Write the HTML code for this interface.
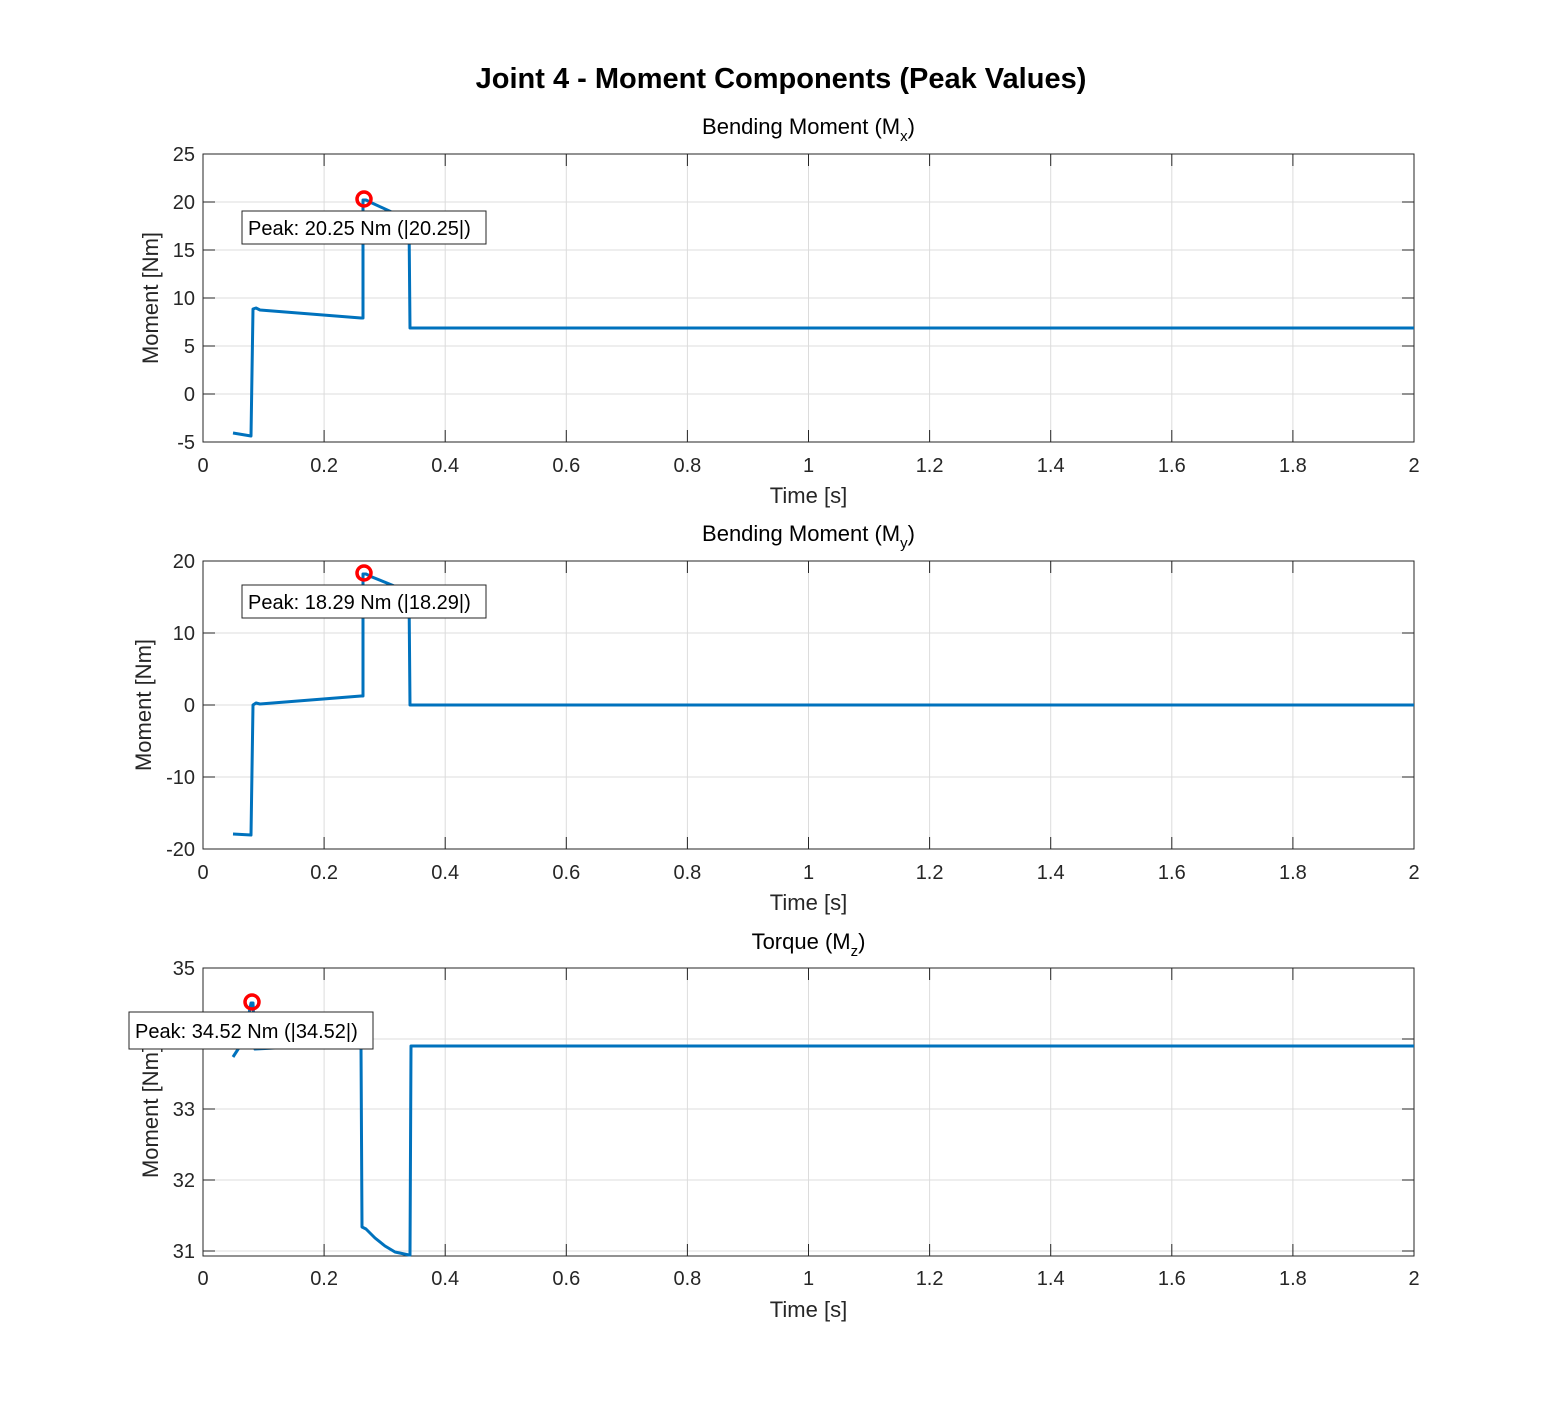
<!DOCTYPE html>
<html><head><style>body{margin:0;background:#fff}svg{display:block}text{font-family:"Liberation Sans",Arial,sans-serif}</style></head><body>
<svg width="1563" height="1406" xmlns="http://www.w3.org/2000/svg">
<rect width="1563" height="1406" fill="#fff"/>
<text x="781" y="88" font-size="29" font-weight="bold" text-anchor="middle">Joint 4 - Moment Components (Peak Values)</text>
<g stroke="#dcdcdc" stroke-width="1">
<path d="M324.1 154V442M445.2 154V442M566.3 154V442M687.4 154V442M808.5 154V442M929.6 154V442M1050.7 154V442M1171.8 154V442M1292.9 154V442M203 202H1414M203 250H1414M203 298H1414M203 346H1414M203 394H1414"/>
<path d="M324.1 561V849M445.2 561V849M566.3 561V849M687.4 561V849M808.5 561V849M929.6 561V849M1050.7 561V849M1171.8 561V849M1292.9 561V849M203 633H1414M203 705H1414M203 777H1414"/>
<path d="M324.1 968V1256M445.2 968V1256M566.3 968V1256M687.4 968V1256M808.5 968V1256M929.6 968V1256M1050.7 968V1256M1171.8 968V1256M1292.9 968V1256M203 1039H1414M203 1109H1414M203 1180H1414M203 1251H1414"/>
</g>
<g fill="none" stroke="#262626" stroke-width="1">
<rect x="203" y="154" width="1211" height="288"/>
<rect x="203" y="561" width="1211" height="288"/>
<rect x="203" y="968" width="1211" height="288"/>
<path d="M203 202h12M203 250h12M203 298h12M203 346h12M203 394h12M1414 202h-12M1414 250h-12M1414 298h-12M1414 346h-12M1414 394h-12
M203 633h12M203 705h12M203 777h12M1414 633h-12M1414 705h-12M1414 777h-12
M203 1039h12M203 1109h12M203 1180h12M203 1251h12M1414 1039h-12M1414 1109h-12M1414 1180h-12M1414 1251h-12
M324.1 442v-12M445.2 442v-12M566.3 442v-12M687.4 442v-12M808.5 442v-12M929.6 442v-12M1050.7 442v-12M1171.8 442v-12M1292.9 442v-12
M324.1 154v12M445.2 154v12M566.3 154v12M687.4 154v12M808.5 154v12M929.6 154v12M1050.7 154v12M1171.8 154v12M1292.9 154v12
M324.1 849v-12M445.2 849v-12M566.3 849v-12M687.4 849v-12M808.5 849v-12M929.6 849v-12M1050.7 849v-12M1171.8 849v-12M1292.9 849v-12
M324.1 561v12M445.2 561v12M566.3 561v12M687.4 561v12M808.5 561v12M929.6 561v12M1050.7 561v12M1171.8 561v12M1292.9 561v12
M324.1 1256v-12M445.2 1256v-12M566.3 1256v-12M687.4 1256v-12M808.5 1256v-12M929.6 1256v-12M1050.7 1256v-12M1171.8 1256v-12M1292.9 1256v-12
M324.1 968v12M445.2 968v12M566.3 968v12M687.4 968v12M808.5 968v12M929.6 968v12M1050.7 968v12M1171.8 968v12M1292.9 968v12"/>
</g>
<g font-size="20" fill="#262626">
<g text-anchor="end">
<text x="195" y="161">25</text><text x="195" y="209">20</text><text x="195" y="257">15</text><text x="195" y="305">10</text><text x="195" y="353">5</text><text x="195" y="401">0</text><text x="195" y="449">-5</text>
<text x="195" y="568">20</text><text x="195" y="640">10</text><text x="195" y="712">0</text><text x="195" y="784">-10</text><text x="195" y="856">-20</text>
<text x="195" y="975">35</text><text x="195" y="1046">34</text><text x="195" y="1116">33</text><text x="195" y="1187">32</text><text x="195" y="1258">31</text>
</g>
<g text-anchor="middle">
<g id="xl"><text x="203" y="472">0</text><text x="324.1" y="472">0.2</text><text x="445.2" y="472">0.4</text><text x="566.3" y="472">0.6</text><text x="687.4" y="472">0.8</text><text x="808.5" y="472">1</text><text x="929.6" y="472">1.2</text><text x="1050.7" y="472">1.4</text><text x="1171.8" y="472">1.6</text><text x="1292.9" y="472">1.8</text><text x="1414" y="472">2</text></g>
<use href="#xl" y="407"/><use href="#xl" y="813"/>
<text x="808.5" y="503" font-size="22">Time [s]</text>
<text x="808.5" y="910" font-size="22">Time [s]</text>
<text x="808.5" y="1317" font-size="22">Time [s]</text>
<text x="808.5" y="134" font-size="22" fill="#000">Bending Moment (M<tspan font-size="15" dy="7">x</tspan><tspan dy="-7">)</tspan></text>
<text x="808.5" y="541" font-size="22" fill="#000">Bending Moment (M<tspan font-size="15" dy="7">y</tspan><tspan dy="-7">)</tspan></text>
<text x="808.5" y="949" font-size="22" fill="#000">Torque (M<tspan font-size="15" dy="7">z</tspan><tspan dy="-7">)</tspan></text>
<text transform="translate(158,298) rotate(-90)" font-size="22">Moment [Nm]</text>
<text transform="translate(151,705) rotate(-90)" font-size="22">Moment [Nm]</text>
<text transform="translate(158,1112) rotate(-90)" font-size="22">Moment [Nm]</text>
</g>
</g>
<g fill="none" stroke="#0072bd" stroke-width="3" stroke-linejoin="round">
<polyline points="233,433 251,436 253,309 256,308 260,310 361,318 363,318 363,200 366,200 372,203 409,220 410,328 1414,328"/>
<polyline points="233,834 251,835 253,705 256,703 260,704 361,696 363,696 363,574 366,574 372,577 409,592 410,705 1414,705"/>
<polyline points="233,1057 244,1040 251,1003 253,1003 255,1049 275,1048 361,1046 362,1227 366,1229 375,1238 385,1246 395,1252 409,1255 410,1255 411,1046 1414,1046"/>
</g>
<g fill="none" stroke="#f00" stroke-width="3.5">
<circle cx="364" cy="199" r="7"/><circle cx="364" cy="573" r="7"/><circle cx="252" cy="1002" r="7"/>
</g>
<g font-size="20" fill="#000">
<rect x="242" y="211" width="244" height="33" fill="#fff" stroke="#262626"/>
<text x="248" y="235">Peak: 20.25 Nm (|20.25|)</text>
<rect x="242" y="585" width="244" height="33" fill="#fff" stroke="#262626"/>
<text x="248" y="609">Peak: 18.29 Nm (|18.29|)</text>
<rect x="129" y="1012" width="244" height="37" fill="#fff" stroke="#262626"/>
<text x="135" y="1038">Peak: 34.52 Nm (|34.52|)</text>
</g>
</svg>
</body></html>
